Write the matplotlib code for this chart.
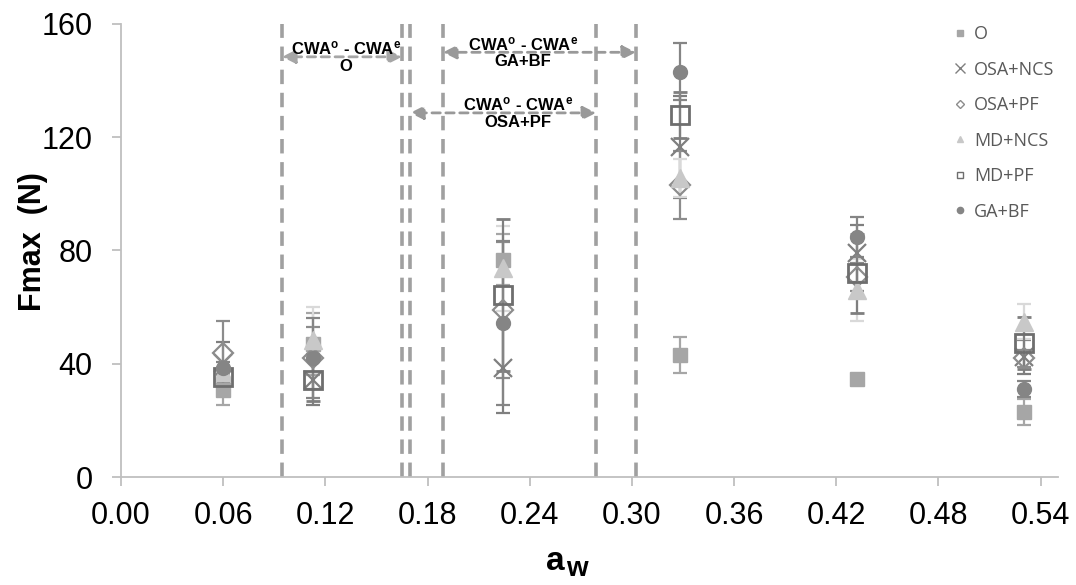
import matplotlib
matplotlib.use("Agg")
import matplotlib.pyplot as plt
from matplotlib.lines import Line2D

plt.rcParams['font.family'] = ['Liberation Sans', 'DejaVu Sans']
plt.rcParams['mathtext.fontset'] = 'custom'
plt.rcParams['mathtext.rm'] = 'Liberation Sans'
plt.rcParams['mathtext.bf'] = 'Liberation Sans:bold'

# water activity of each group
aw = [0.06, 0.113, 0.224, 0.328, 0.432, 0.530]

# Fmax means and error bars per formulation
O = [30.7, 47.0, 76.7, 43.1, 34.6, 23.0]
O_err = [5.3, 11.0, 9.0, 6.4, 0.0, 4.6]
OSA_NCS = [40.3, 34.3, 38.5, 116.6, 79.0, 42.4]
OSA_NCS_err = [7.4, 9.0, 16.0, 18.0, 10.0, 6.0]
OSA_PF = [43.8, 42.0, 59.0, 103.1, 70.6, 42.0]
OSA_PF_err = [11.3, 11.0, 24.0, 12.0, 5.0, 3.0]
MD_NCS = [37.0, 48.4, 73.8, 105.6, 66.0, 54.8]
MD_NCS_err = [2.0, 11.6, 15.0, 6.6, 11.0, 6.2]
MD_PF = [35.3, 34.3, 64.3, 127.9, 72.0, 47.3]
MD_PF_err = [2.0, 7.5, 27.0, 8.0, 14.0, 9.2]
GA_BF = [38.5, 42.0, 54.4, 143.2, 84.8, 31.1]
GA_BF_err = [2.0, 14.0, 29.0, 10.0, 7.0, 2.8]

# critical water activity ranges (vertical lines) and arrows
vlines = [0.0945, 0.165, 0.1697, 0.189, 0.279, 0.3024]
arrows = [(0.0945, 0.165, 148.4, 'O', 0.132, '#A6A6A6'),
          (0.189, 0.3024, 150.0, 'GA+BF', 0.236, '#999999'),
          (0.1697, 0.279, 128.6, 'OSA+PF', 0.233, '#999999')]

fig = plt.figure(figsize=(10.76, 5.85), dpi=100)
ax = fig.add_axes([0.1125, 0.1846, 0.8708, 0.7744])

for xv in vlines:
    ax.axvline(xv, color='#A0A0A0', lw=2.6, ls=(0, (4, 2.4)), zorder=1)

series = [
    ('O', O, O_err, dict(marker='s', ms=9.5, mfc='#A6A6A6', mec='#A6A6A6'), '#A6A6A6'),
    ('OSA+NCS', OSA_NCS, OSA_NCS_err, dict(marker='x', ms=13, mec='#7F7F7F', mew=1.6), '#7F7F7F'),
    ('OSA+PF', OSA_PF, OSA_PF_err, dict(marker='D', ms=10, mfc='none', mec='#8C8C8C', mew=1.6), '#8C8C8C'),
    ('MD+NCS', MD_NCS, MD_NCS_err, dict(marker='^', ms=13, mfc='#C8C8C8', mec='#C8C8C8'), '#D9D9D9'),
    ('MD+PF', MD_PF, MD_PF_err, dict(marker='s', ms=12.5, mfc='none', mec='#6E6E6E', mew=2), '#7F7F7F'),
    ('GA+BF', GA_BF, GA_BF_err, dict(marker='o', ms=10, mfc='#858585', mec='#858585'), '#858585'),
]

handles = []
for name, vals, err, mk, ecol in series:
    ax.errorbar(aw, vals, yerr=err, ls='none', ecolor=ecol, elinewidth=1.6,
                capsize=5, capthick=1.6, zorder=3, **mk)
    small = dict(mk)
    small['ms'] = 4.5 if mk['marker'] != 'x' else 7
    if 'mew' in small:
        small['mew'] = 1.0
    handles.append(Line2D([], [], ls='none', label=name, **small))

for x0, x1, y, lab, xt, col in arrows:
    ax.annotate('', xy=(x0, y), xytext=(x1, y),
                arrowprops=dict(arrowstyle='<|-|>', color=col, lw=2, ls=(0, (3, 2)),
                                shrinkA=0, shrinkB=0, mutation_scale=20), zorder=4)
    ax.text(xt, y, r'$\mathbf{CWA^{o}}$' + ' - ' + r'$\mathbf{CWA^{e}}$' + '\n' + lab,
            ha='center', va='center', fontsize=12, fontweight='bold',
            linespacing=1.1, zorder=5)

ax.set_xlim(0, 0.5502)
ax.set_ylim(0, 160)
ax.set_xticks([0.0, 0.06, 0.12, 0.18, 0.24, 0.30, 0.36, 0.42, 0.48, 0.54])
ax.set_xticklabels(['0.00', '0.06', '0.12', '0.18', '0.24', '0.30', '0.36', '0.42', '0.48', '0.54'])
ax.set_yticks([0, 40, 80, 120, 160])
ax.tick_params(labelsize=22, color='#BFBFBF', length=6.5, width=1.3, direction='out')
ax.tick_params(axis='y', pad=14)
ax.tick_params(axis='x', pad=11)
for s in ['top', 'right']:
    ax.spines[s].set_visible(False)
for s in ['left', 'bottom']:
    ax.spines[s].set_color('#BFBFBF')
    ax.spines[s].set_linewidth(1.3)

ax.set_ylabel('Fmax  (N)', fontsize=22, fontweight='bold')
ax.yaxis.set_label_coords(-0.078, 0.52)

# a_w axis title
fig.text(565 / 1076, 1 - 570 / 585, 'a', ha='right', va='baseline',
         fontsize=24, fontweight='bold')
fig.text(566 / 1076, 1 - 576 / 585, 'w', ha='left', va='baseline',
         fontsize=20, fontweight='bold')

fig.legend(handles=handles, loc='upper left', bbox_to_anchor=(0.869, 0.985),
           frameon=False, prop={'family': 'Open Sans', 'size': 13},
           labelcolor='#595959', labelspacing=0.97, handletextpad=0.25,
           handlelength=1.0)

fig.savefig('out.png', dpi=100)
